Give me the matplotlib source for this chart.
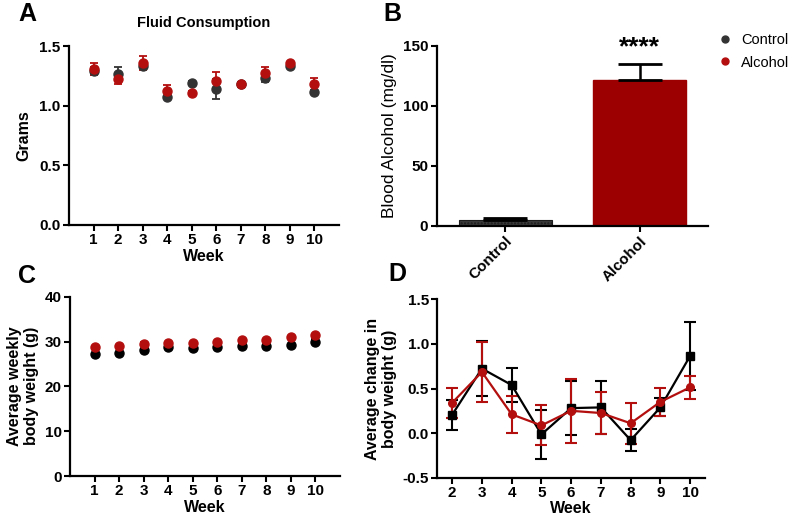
import numpy as np
import matplotlib
matplotlib.use("Agg")
import matplotlib.pyplot as plt
from matplotlib.lines import Line2D

plt.rcParams['font.family'] = ['Liberation Sans', 'DejaVu Sans']

# Panel A - fluid consumption
weeks_a = [1, 2, 3, 4, 5, 6, 7, 8, 9, 10]
fluid_ctrl = [1.29, 1.265, 1.33, 1.075, 1.19, 1.14, 1.18, 1.23, 1.335, 1.115]
fluid_ctrl_err = [0.03, 0.06, 0.02, 0.01, 0.02, 0.08, 0.02, 0.03, 0.01, 0.01]
fluid_alc = [1.31, 1.22, 1.36, 1.12, 1.11, 1.21, 1.18, 1.27, 1.36, 1.18]
fluid_alc_err = [0.05, 0.04, 0.06, 0.05, 0.01, 0.07, 0.02, 0.05, 0.01, 0.05]

# Panel B - blood alcohol
groups_b = ["Control", "Alcohol"]
bac_mean = [4.7, 121.4]
bac_err = [2.0, 13.3]

# Panel C - average weekly body weight
bw_ctrl = [27.2, 27.4, 28.2, 28.8, 28.6, 28.8, 29.1, 29.1, 29.2, 30.0]
bw_ctrl_err = [0.2, 0.2, 0.2, 0.2, 0.2, 0.2, 0.2, 0.2, 0.2, 0.6]
bw_alc = [28.7, 29.1, 29.4, 29.7, 29.7, 30.0, 30.3, 30.4, 30.9, 31.4]
bw_alc_err = [0.2, 0.2, 0.5, 0.2, 0.2, 0.2, 0.2, 0.2, 0.2, 0.2]

# Panel D - change in body weight
weeks_d = [2, 3, 4, 5, 6, 7, 8, 9, 10]
dbw_ctrl = [0.206, 0.723, 0.539, -0.015, 0.28, 0.288, -0.079, 0.288, 0.865]
dbw_ctrl_err = [0.17, 0.31, 0.19, 0.27, 0.30, 0.30, 0.12, 0.10, 0.38]
dbw_alc = [0.34, 0.685, 0.21, 0.086, 0.25, 0.225, 0.11, 0.35, 0.513]
dbw_alc_err = [0.17, 0.34, 0.21, 0.225, 0.36, 0.24, 0.23, 0.16, 0.13]

RED = "#b30f0f"
BAR_RED = "#9c0000"
GRAY = "#333333"

fig = plt.figure(figsize=(8, 5.2), dpi=100)


def style_axes(ax):
    for s in ["top", "right"]:
        ax.spines[s].set_visible(False)
    for s in ["left", "bottom"]:
        ax.spines[s].set_linewidth(1.6)
    ax.tick_params(width=1.5, length=4, labelsize=11, pad=2)
    for lab in ax.get_xticklabels() + ax.get_yticklabels():
        lab.set_fontweight("bold")


# A
axA = fig.add_axes([69/800, 1-225/520, 270/800, 179/520])
axA.errorbar(weeks_a, fluid_ctrl, yerr=fluid_ctrl_err, fmt="o", color=GRAY, ms=6.5,
             capsize=3, elinewidth=1.3, capthick=1.3)
axA.errorbar(weeks_a, fluid_alc, yerr=fluid_alc_err, fmt="o", color=RED, ms=6.5,
             capsize=3, elinewidth=1.3, capthick=1.3)
axA.set_xlim(0, 11)
axA.set_ylim(0, 1.5)
axA.set_xticks(weeks_a)
axA.set_yticks([0, 0.5, 1.0, 1.5])
axA.set_yticklabels(["0.0", "0.5", "1.0", "1.5"])
axA.set_xlabel("Week", fontsize=11.5, fontweight="bold", labelpad=1)
axA.set_ylabel("Grams", fontsize=11.5, fontweight="bold", labelpad=6)
axA.set_title("Fluid Consumption", fontsize=10.5, fontweight="bold", pad=14)
style_axes(axA)

# B
axB = fig.add_axes([436.7/800, 1-225.7/520, 271.3/800, 180/520])
xb = np.arange(len(groups_b))
axB.bar(xb[0], bac_mean[0], width=0.69, color="#3a3a3a", edgecolor="#1c1c1c",
        hatch=".....", linewidth=0.8)
axB.bar(xb[1], bac_mean[1], width=0.69, color=BAR_RED, edgecolor=BAR_RED)
axB.errorbar(xb, bac_mean, yerr=[[0, 0], bac_err], fmt="none", ecolor="black",
             capsize=16, elinewidth=1.8, capthick=2)
axB.text(xb[1], bac_mean[1] + bac_err[1] + 4, "****", ha="center", va="bottom",
         fontsize=19, fontweight="bold")
axB.set_xlim(-0.51, 1.51)
axB.set_ylim(0, 150)
axB.set_yticks([0, 50, 100, 150])
axB.set_xticks(xb)
axB.set_xticklabels(groups_b, rotation=45, ha="right", rotation_mode="anchor")
axB.set_ylabel("Blood Alcohol (mg/dl)", fontsize=12.5)
style_axes(axB)

# C
axC = fig.add_axes([70/800, 1-476/520, 270/800, 179.3/520])
axC.errorbar(weeks_a, bw_ctrl, yerr=bw_ctrl_err, fmt="o", color="black", ms=6.5,
             capsize=3, elinewidth=1.3, capthick=1.3)
axC.errorbar(weeks_a, bw_alc, yerr=bw_alc_err, fmt="o", color=RED, ms=6.5,
             capsize=3, elinewidth=1.3, capthick=1.3)
axC.set_xlim(0, 11)
axC.set_ylim(0, 40)
axC.set_xticks(weeks_a)
axC.set_yticks([0, 10, 20, 30, 40])
axC.set_xlabel("Week", fontsize=11.5, fontweight="bold", labelpad=1)
axC.set_ylabel("Average weekly\nbody weight (g)", fontsize=11.5, fontweight="bold")
style_axes(axC)

# D
axD = fig.add_axes([437.3/800, 1-477.7/520, 267.7/800, 178.4/520])
axD.errorbar(weeks_d, dbw_ctrl, yerr=dbw_ctrl_err, fmt="-s", color="black", ms=5.5,
             lw=1.6, capsize=4, elinewidth=1.5, capthick=1.5)
axD.errorbar(weeks_d, dbw_alc, yerr=dbw_alc_err, fmt="-o", color=RED, ms=5.5,
             lw=1.6, capsize=4, elinewidth=1.5, capthick=1.5)
axD.set_xlim(1.5, 10.5)
axD.set_ylim(-0.5, 1.5)
axD.set_xticks(weeks_d)
axD.set_yticks([-0.5, 0, 0.5, 1.0, 1.5])
axD.set_yticklabels(["-0.5", "0.0", "0.5", "1.0", "1.5"])
axD.set_xlabel("Week", fontsize=11.5, fontweight="bold", labelpad=1)
axD.set_ylabel("Average change in\nbody weight (g)", fontsize=11.5, fontweight="bold")
style_axes(axD)

# panel letters
for lbl, x, y in [("A", 18, 14), ("B", 383, 14), ("C", 18, 276), ("D", 388, 274)]:
    fig.text(x/800, 1-y/520, lbl, fontsize=18, fontweight="bold", va="center")

# legend
handles = [Line2D([], [], ls="none", marker="o", ms=5, color=GRAY, label="Control"),
           Line2D([], [], ls="none", marker="o", ms=5, color=RED, label="Alcohol")]
fig.legend(handles=handles, loc="upper left", bbox_to_anchor=(706/800, 1-24/520),
           frameon=False, fontsize=10.5, handletextpad=0.4, labelspacing=0.6,
           handlelength=1.4, borderaxespad=0.2)

fig.savefig("out.png", dpi=100)
